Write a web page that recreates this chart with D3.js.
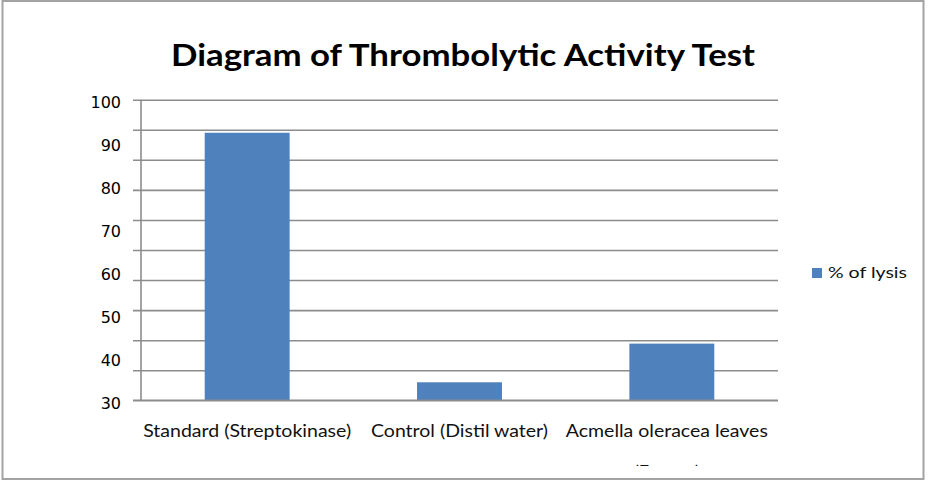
<!DOCTYPE html>
<html>
<head>
<meta charset="utf-8">
<script src="https://cdn.jsdelivr.net/npm/d3@7"></script>
<style>
  body { margin: 0; background: #fff; }
</style>
</head>
<body>
<div id="chart"></div>
<script>
// values
const categories = ["Standard (Streptokinase)", "Control (Distil water)", "Acmella oleracea leaves (Extract)"];
const labelLines = [["Standard (Streptokinase)"], ["Control (Distil water)"], ["Acmella oleracea leaves", "(Extract)"]];
const lysis = [92.3, 34.2, 43.2];
const tickLabels = [30, 40, 50, 60, 70, 80, 90, 100];
const gridValues = [30, 37, 44, 51, 58, 65, 72, 79, 86, 93, 100];
const seriesName = "% of lysis";

const width = 928, height = 483;
const plotLeft = 141, plotRight = 778, plotTop = 99.7, plotBottom = 400.3;
const barColor = "#4f81bd", gridColor = "#8c8c8c";
const font = "Lato, 'Open Sans', sans-serif";

const svg = d3.select("#chart").append("svg")
	.attr("width", width)
	.attr("height", height);

svg.append("rect").attr("width", width).attr("height", height).attr("fill", "#fff");

// outer frame
svg.append("rect")
	.attr("x", 2.5).attr("y", 1)
	.attr("width", 921).attr("height", 478)
	.attr("fill", "none")
	.attr("stroke", "#a3a3a3")
	.attr("stroke-width", 2);

const x = d3.scaleBand()
	.domain(categories)
	.range([plotLeft, plotRight])
	.paddingInner(0.6)
	.paddingOuter(0.3);

const y = d3.scaleLinear()
	.domain([30, 100])
	.range([plotBottom, plotTop]);

// gridlines (they stick out left of the axis like tick marks)
const grid = svg.append("g")
	.attr("transform", `translate(${plotLeft - 8},0)`)
	.call(d3.axisLeft(y).tickValues(gridValues).tickSize(-(plotRight - plotLeft + 8)).tickFormat(""));
grid.select(".domain").remove();
grid.selectAll("line").attr("stroke", gridColor).attr("stroke-width", 1.6);

// vertical axis line
svg.append("line")
	.attr("x1", plotLeft).attr("x2", plotLeft)
	.attr("y1", y(100)).attr("y2", y(30))
	.attr("stroke", gridColor)
	.attr("stroke-width", 1.6);

// y labels
const yLab = svg.append("g")
	.attr("transform", `translate(${plotLeft},0)`)
	.call(d3.axisLeft(y).tickValues(tickLabels).tickSize(0).tickPadding(20));
yLab.select(".domain").remove();
yLab.selectAll("text")
	.attr("y", 3)
	.attr("fill", "#000")
	.style("font-family", "'DejaVu Sans', Verdana, sans-serif")
	.style("font-size", "16px");

// bars
svg.selectAll(".bar").data(categories).enter().append("rect")
	.attr("class", "bar")
	.attr("x", d => x(d))
	.attr("width", x.bandwidth())
	.attr("y", (d, i) => y(lysis[i]))
	.attr("height", (d, i) => y(30) - y(lysis[i]))
	.attr("fill", barColor);

// baseline drawn over bars
svg.append("line")
	.attr("x1", plotLeft - 8).attr("x2", plotRight)
	.attr("y1", y(30)).attr("y2", y(30))
	.attr("stroke", gridColor)
	.attr("stroke-width", 1.6);

// category labels; the second line of the last one is cut off like in the original
svg.append("clipPath").attr("id", "cut")
	.append("rect").attr("x", 0).attr("y", 0).attr("width", width).attr("height", 466);

const labelWidths = [208, 177, 202];
const xLab = svg.append("g").attr("clip-path", "url(#cut)");
categories.forEach((c, i) =>
{
	labelLines[i].forEach((line, j) =>
	{
		const t = xLab.append("text")
			.attr("x", x(c) + x.bandwidth() / 2 - (labelLines[i].length > 1 ? 5 : 0))
			.attr("y", 436.5 + j * 41)
			.attr("text-anchor", "middle")
			.attr("fill", "#111")
			.style("font-family", font)
			.style("font-size", "18px")
			.text(line);
		if (j === 0) t.attr("textLength", labelWidths[i]).attr("lengthAdjust", "spacingAndGlyphs");
	});
});

// title
svg.append("text")
	.attr("x", 463)
	.attr("y", 66)
	.attr("text-anchor", "middle")
	.attr("textLength", 584)
	.attr("lengthAdjust", "spacingAndGlyphs")
	.style("font-family", font)
	.style("font-weight", "bold")
	.style("font-size", "31px")
	.attr("fill", "#000")
	.text("Diagram of Thrombolytic Activity Test");

// legend
const legend = svg.append("g").attr("transform", "translate(812,268)");
legend.append("rect").attr("width", 10).attr("height", 10).attr("fill", barColor);
legend.append("text")
	.attr("x", 16).attr("y", 10)
	.attr("textLength", 79)
	.attr("lengthAdjust", "spacingAndGlyphs")
	.attr("fill", "#111")
	.style("font-family", font)
	.style("font-size", "16px")
	.text(seriesName);
</script>
</body>
</html>
